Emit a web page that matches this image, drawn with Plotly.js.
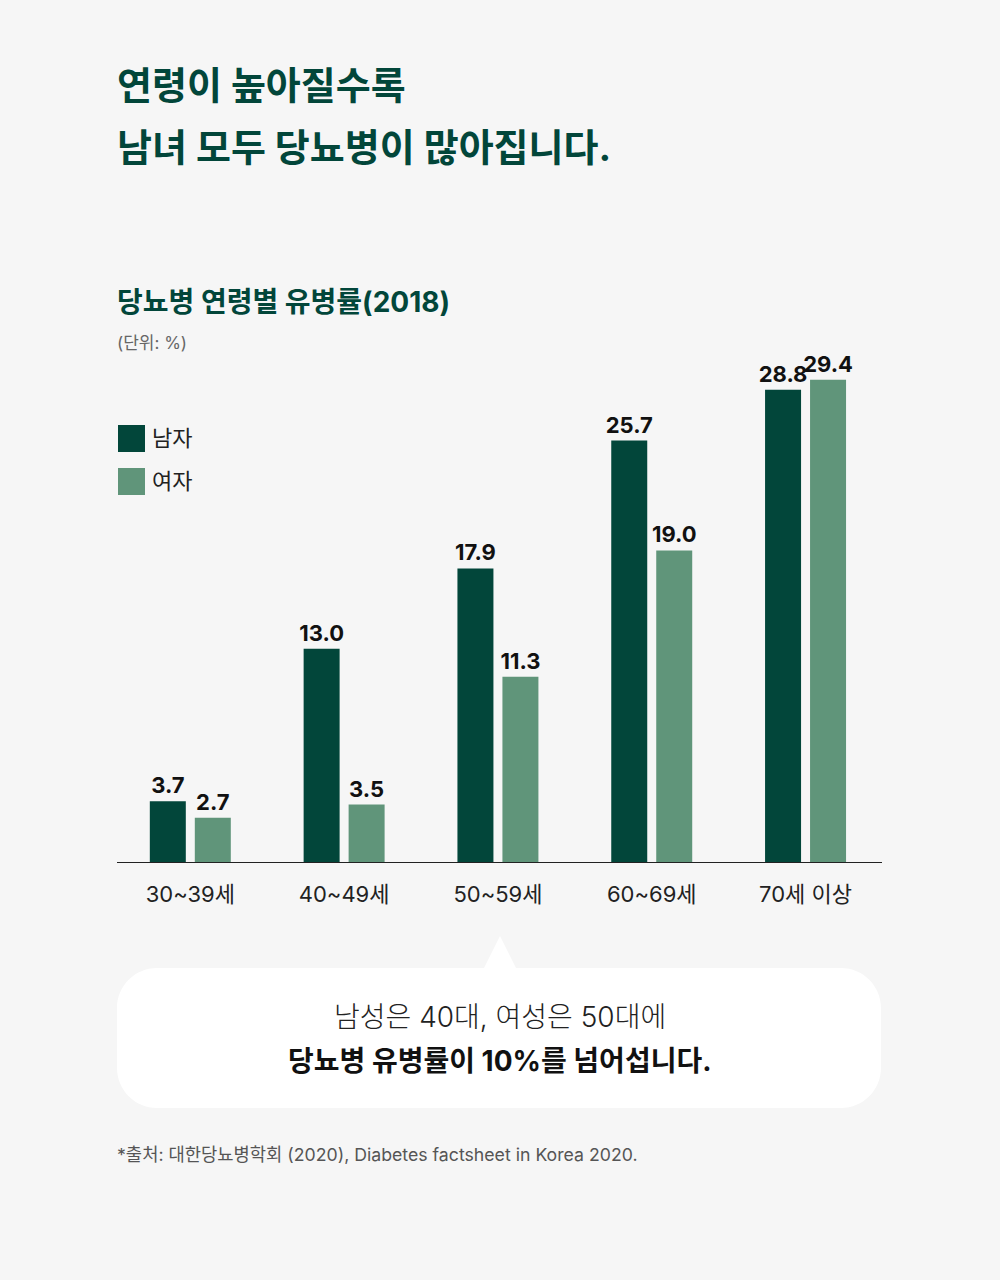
<!DOCTYPE html>
<html>
<head>
<meta charset="utf-8">
<script src="https://cdn.plot.ly/plotly-3.0.1.min.js"></script>
<style>
html,body{margin:0;padding:0;background:#f6f6f6;}
#chart{width:1000px;height:1280px;}
</style>
</head>
<body>
<div id="chart"></div>
<script>
// ---- data ----
const categories = ['30~39세', '40~49세', '50~59세', '60~69세', '70세 이상'];
const maleValues = [3.7, 13.0, 17.9, 25.7, 28.8];
const femaleValues = [2.7, 3.5, 11.3, 19.0, 29.4];
const seriesNames = ['남자', '여자'];
const titleLines = ['연령이 높아질수록', '남녀 모두 당뇨병이 많아집니다.'];
const subtitle = '당뇨병 연령별 유병률(2018)';
const unitLabel = '(단위: %)';
const calloutLines = ['남성은 40대, 여성은 50대에', '당뇨병 유병률이 10%를 넘어섭니다.'];
const sourceNote = '*출처: 대한당뇨병학회 (2020), Diabetes factsheet in Korea 2020.';

// ---- style ----
const DARK = '#02463a';
const LIGHT = '#60957a';
const BG = '#f6f6f6';
const FONT = 'Inter, "Noto Sans CJK KR", sans-serif';

const W = 1000, H = 1280;
const M = {l: 117, r: 118, t: 330, b: 418};
const PW = W - M.l - M.r, PH = H - M.t - M.b;
const px = x => (x - M.l) / PW;
const py = y => (H - M.b - y) / PH;

const labelFont = {family: FONT, size: 22, color: '#111', weight: 700};
const traces = [
  {type: 'bar', name: seriesNames[0], x: categories, y: maleValues,
   marker: {color: DARK}, texttemplate: '%{y:.1f}', textposition: 'outside',
   constraintext: 'none', cliponaxis: false, textfont: labelFont, hoverinfo: 'skip'},
  {type: 'bar', name: seriesNames[1], x: categories, y: femaleValues,
   marker: {color: LIGHT}, texttemplate: '%{y:.1f}', textposition: 'outside',
   constraintext: 'none', cliponaxis: false, textfont: labelFont, hoverinfo: 'skip'}
];

function bubblePath() {
  const x0 = 117, x1 = 881, y0 = 968, y1 = 1108, r = 40, k = 0.552 * r;
  const P = (x, y) => px(x).toFixed(5) + ',' + py(y).toFixed(5);
  let d = 'M' + P(x0 + r, y0);
  d += ' L' + P(484, y0) + ' L' + P(500, 936) + ' L' + P(516, y0);
  d += ' L' + P(x1 - r, y0);
  d += ' C' + P(x1 - r + k, y0) + ' ' + P(x1, y0 + r - k) + ' ' + P(x1, y0 + r);
  d += ' L' + P(x1, y1 - r);
  d += ' C' + P(x1, y1 - r + k) + ' ' + P(x1 - r + k, y1) + ' ' + P(x1 - r, y1);
  d += ' L' + P(x0 + r, y1);
  d += ' C' + P(x0 + r - k, y1) + ' ' + P(x0, y1 - r + k) + ' ' + P(x0, y1 - r);
  d += ' L' + P(x0, y0 + r);
  d += ' C' + P(x0, y0 + r - k) + ' ' + P(x0 + r - k, y0) + ' ' + P(x0 + r, y0);
  d += ' Z';
  return d;
}

const shapes = [
  {type: 'path', xref: 'paper', yref: 'paper', path: bubblePath(),
   fillcolor: '#ffffff', line: {width: 0}, layer: 'below'},
  {type: 'rect', xref: 'paper', yref: 'paper', x0: px(118), x1: px(145), y0: py(452), y1: py(425),
   fillcolor: DARK, line: {width: 0}},
  {type: 'rect', xref: 'paper', yref: 'paper', x0: px(118), x1: px(145), y0: py(495), y1: py(468),
   fillcolor: LIGHT, line: {width: 0}}
];

function ann(text, x, y, size, color, weight, xanchor) {
  return {text: text, xref: 'paper', yref: 'paper', x: px(x), y: py(y),
    xanchor: xanchor || 'left', yanchor: 'middle', showarrow: false,
    font: {family: FONT, size: size, color: color, weight: weight || 400}};
}

const annotations = [
  ann(titleLines[0], 115, 85, 38, '#02463a', 700),
  ann(titleLines[1], 115, 147, 38, '#02463a', 700),
  ann(subtitle, 115, 302, 28, '#02463a', 700),
  ann(unitLabel, 115, 343, 17, '#666666', 400),
  ann(seriesNames[0], 150, 438, 22, '#222222', 400),
  ann(seriesNames[1], 150, 481, 22, '#222222', 400),
  ann(calloutLines[0], 500, 1017, 28, '#222222', 300, 'center'),
  ann(calloutLines[1], 500, 1061, 28, '#111111', 700, 'center'),
  ann(sourceNote, 115, 1154, 17.7, '#555555', 400)
];

const layout = {
  width: W, height: H,
  margin: M,
  paper_bgcolor: BG, plot_bgcolor: BG,
  showlegend: false,
  barmode: 'group', bargap: 0.415, bargroupgap: 0.2,
  hovermode: false,
  font: {family: FONT},
  xaxis: {type: 'category', range: [-0.4766, 4.497], showline: true, linecolor: '#222222', linewidth: 1.3,
    ticks: '', showgrid: false, zeroline: false, ticklabelstandoff: 12,
    tickfont: {family: FONT, size: 22, color: '#222222'}, fixedrange: true},
  yaxis: {range: [0, 532 / 16.4], visible: false, showgrid: false, zeroline: false, fixedrange: true},
  shapes: shapes,
  annotations: annotations
};

Plotly.newPlot('chart', traces, layout, {displayModeBar: false, staticPlot: true});
</script>
</body>
</html>
